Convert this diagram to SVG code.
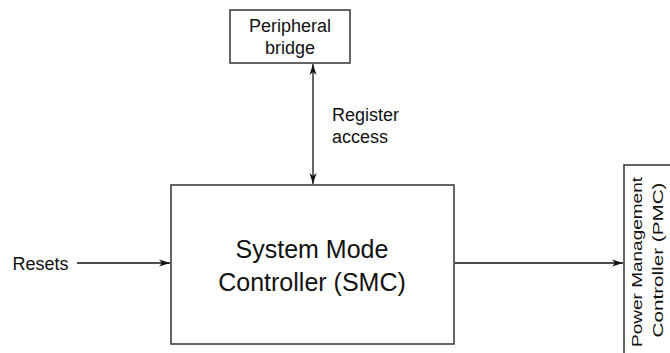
<svg xmlns="http://www.w3.org/2000/svg" width="670" height="353" viewBox="0 0 670 353">
<defs>
<style>
.box{fill:#fff;stroke:#333;stroke-width:1.5}
.t{font-family:"Liberation Sans",Arial,sans-serif;fill:#111}
.c{stroke:#111;stroke-width:1.3;fill:none}
</style>
<marker id="ah" markerUnits="userSpaceOnUse" markerWidth="12" markerHeight="8" refX="11" refY="4" orient="auto-start-reverse" viewBox="0 0 12 8">
<path d="M0,0.5 L11,4 L0,7.5 L3,4 z" fill="#111"/>
</marker>
</defs>
<rect width="670" height="353" fill="#fff"/>
<g id="connectors">
<line class="c" x1="313" y1="64" x2="313" y2="184" marker-start="url(#ah)" marker-end="url(#ah)"/>
<line class="c" x1="77" y1="263" x2="170" y2="263" marker-end="url(#ah)"/>
<line class="c" x1="455" y1="263" x2="623" y2="263" marker-end="url(#ah)"/>
</g>
<g id="peripheral-bridge">
<rect class="box" x="230" y="10" width="120" height="53"/>
<text class="t" x="290" y="31.5" font-size="18" text-anchor="middle">Peripheral</text>
<text class="t" x="290" y="54" font-size="18" text-anchor="middle">bridge</text>
</g>
<g id="register-access-label">
<text class="t" x="332" y="121" font-size="18">Register</text>
<text class="t" x="332" y="143" font-size="18">access</text>
</g>
<g id="smc">
<rect class="box" x="171" y="185" width="283" height="159"/>
<text class="t" x="312" y="258" font-size="25" text-anchor="middle">System Mode</text>
<text class="t" x="312" y="291" font-size="25" text-anchor="middle">Controller (SMC)</text>
</g>
<g id="resets">
<text class="t" x="12.5" y="270" font-size="18">Resets</text>
</g>
<g id="pmc">
<rect class="box" x="624" y="165" width="60" height="200"/>
<text class="t" transform="translate(642,262) rotate(-90)" font-size="15.5" text-anchor="middle" textLength="170" lengthAdjust="spacingAndGlyphs">Power Management</text>
<text class="t" transform="translate(663,260) rotate(-90)" font-size="15.5" text-anchor="middle" textLength="155" lengthAdjust="spacingAndGlyphs">Controller (PMC)</text>
</g>
</svg>
